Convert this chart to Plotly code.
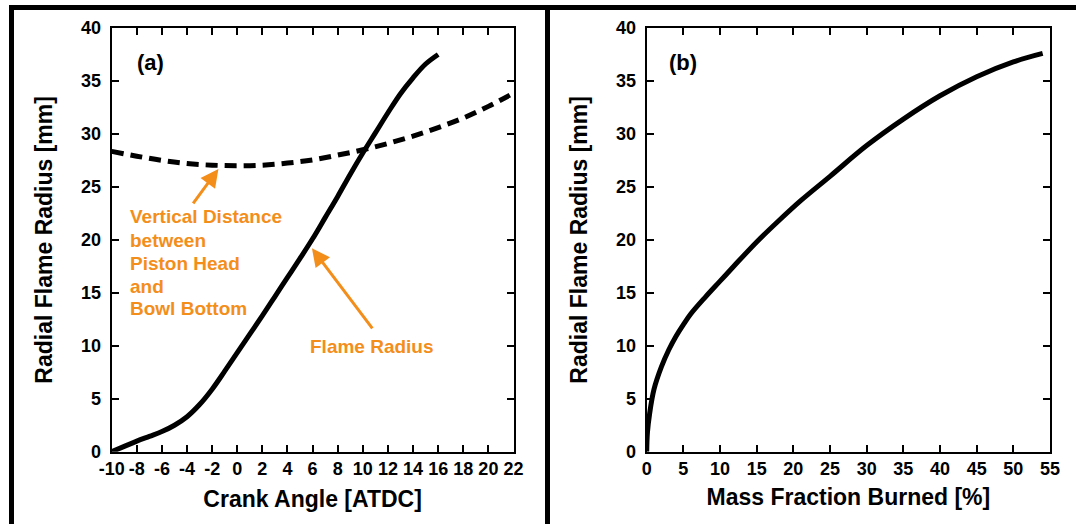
import plotly.graph_objects as go

# ---- data -------------------------------------------------------------
crank_angle = [-10, -9, -8, -7, -6, -5, -4, -3, -2, -1, 0, 1, 2, 3, 4, 5, 6,
               7, 8, 9, 10, 11, 12, 13, 14, 15, 16]
flame_radius = [0.0, 0.5, 1.0, 1.45, 1.9, 2.5, 3.3, 4.45, 5.9, 7.6, 9.35, 11.1,
                12.85, 14.65, 16.45, 18.25, 20.1, 22.1, 24.1, 26.2, 28.2, 30.1,
                32.0, 33.8, 35.3, 36.6, 37.5]

dist_angle = [-10, -8, -6, -4, -2, 0, 2, 4, 6, 8, 10, 12, 14, 16, 18, 20, 22]
piston_bowl_dist = [28.35, 27.9, 27.5, 27.2, 27.05, 27.0, 27.05, 27.25, 27.55,
                    28.0, 28.5, 29.1, 29.8, 30.6, 31.5, 32.6, 33.85]

mfb = [0, 0.1, 0.4, 1, 2, 3, 4, 5, 6, 8, 10, 12, 15, 18, 21, 25, 30, 35, 40,
       45, 50, 54]
mfb_radius = [0.0, 1.8, 3.6, 5.9, 8.0, 9.6, 10.9, 12.0, 13.0, 14.6, 16.1, 17.6,
              19.8, 21.8, 23.7, 26.0, 28.9, 31.4, 33.6, 35.4, 36.8, 37.6]

crank_ticks = list(range(-10, 23, 2))
crank_tick_text = [str(v) for v in crank_ticks]   # plain hyphen minus
mfb_ticks = list(range(0, 56, 5))
radius_ticks = list(range(0, 41, 5))

note_lines = ["Vertical Distance", "between", "Piston Head", "and",
              "Bowl Bottom"]

# ---- figure -----------------------------------------------------------
W, H = 1076, 524
ORANGE = "#F48E1B"
FONT = "Liberation Sans"


def px_x(p):
    return p / W


def px_y(p):
    return 1 - p / H


fig = go.Figure()

fig.add_trace(go.Scatter(x=crank_angle, y=flame_radius, mode="lines",
                         line=dict(color="black", width=5, shape="spline"),
                         xaxis="x", yaxis="y", showlegend=False))
fig.add_trace(go.Scatter(x=dist_angle, y=piston_bowl_dist, mode="lines",
                         line=dict(color="black", width=5, shape="spline",
                                   dash="12px,7px"),
                         xaxis="x", yaxis="y", showlegend=False))
fig.add_trace(go.Scatter(x=mfb, y=mfb_radius, mode="lines",
                         line=dict(color="black", width=5, shape="spline"),
                         xaxis="x2", yaxis="y2", showlegend=False))

axis_common = dict(showline=True, linecolor="black", linewidth=2,
                   mirror="ticks", ticks="inside", ticklen=7, tickwidth=2,
                   tickcolor="black", showgrid=False, zeroline=False,
                   tickangle=0, automargin=False,
                   tickfont=dict(family=FONT, size=18, color="black",
                                 weight="bold"))
title_font = dict(family=FONT, size=23, color="black", weight="bold")

ydom = [px_y(451.7), px_y(28)]

fig.update_layout(
    width=W, height=H,
    margin=dict(l=0, r=0, t=0, b=0),
    paper_bgcolor="white", plot_bgcolor="white",
    xaxis=dict(domain=[px_x(111.7), px_x(513.5)], range=[-10, 22],
               tickvals=crank_ticks, ticktext=crank_tick_text, anchor="y",
               title=dict(text="Crank Angle [ATDC]", font=title_font,
                          standoff=13),
               **axis_common),
    yaxis=dict(domain=ydom, range=[0, 40], tickvals=radius_ticks,
               anchor="x", ticklabelstandoff=5,
               title=dict(text="Radial Flame Radius [mm]", font=title_font,
                          standoff=22),
               **axis_common),
    xaxis2=dict(domain=[px_x(646.7), px_x(1050)], range=[0, 55],
                tickvals=mfb_ticks, anchor="y2",
                title=dict(text="Mass Fraction Burned [%]", font=title_font,
                           standoff=11),
                **axis_common),
    yaxis2=dict(domain=ydom, range=[0, 40], tickvals=radius_ticks,
                anchor="x2", ticklabelstandoff=5,
                title=dict(text="Radial Flame Radius [mm]", font=title_font,
                           standoff=22),
                **axis_common),
)

# outer frame and panel divider
frame = [
    (9, 5, W, 10),      # top bar
    (9, 5, 14, H),      # left bar
    (545, 5, 550, H),   # divider between panels
]
for x0, y0, x1, y1 in frame:
    fig.add_shape(type="rect", xref="paper", yref="paper",
                  x0=px_x(x0), x1=px_x(x1), y0=px_y(y1), y1=px_y(y0),
                  fillcolor="black", line=dict(width=0), layer="above")

# panel labels
label_font = dict(family=FONT, size=22, color="black", weight="bold")
fig.add_annotation(x=-6.95, y=36.7, xref="x", yref="y", text="(a)",
                   showarrow=False, font=label_font)
fig.add_annotation(x=4.95, y=36.7, xref="x2", yref="y2", text="(b)",
                   showarrow=False, font=label_font)

# orange call-outs
note_font = dict(family=FONT, size=19, color=ORANGE, weight="bold")
fig.add_annotation(x=-1.5, y=26.7, ax=-3.6, ay=23.3, xref="x", yref="y",
                   axref="x", ayref="y", text="", showarrow=True,
                   arrowhead=2, arrowsize=1.2, arrowwidth=3,
                   arrowcolor=ORANGE)
fig.add_annotation(x=5.95, y=19.2, ax=10.85, ay=11.5, xref="x", yref="y",
                   axref="x", ayref="y", text="", showarrow=True,
                   arrowhead=2, arrowsize=1.2, arrowwidth=3,
                   arrowcolor=ORANGE)
note_y = [22.2, 19.9, 17.8, 15.6, 13.5]
for line_text, ly in zip(note_lines, note_y):
    fig.add_annotation(x=-8.7, y=ly, xref="x", yref="y", text=line_text,
                       showarrow=False, xanchor="left", yanchor="middle",
                       font=note_font)
fig.add_annotation(x=10.7, y=9.9, xref="x", yref="y", text="Flame Radius",
                   showarrow=False, font=note_font)

fig.write_html("out.html")
